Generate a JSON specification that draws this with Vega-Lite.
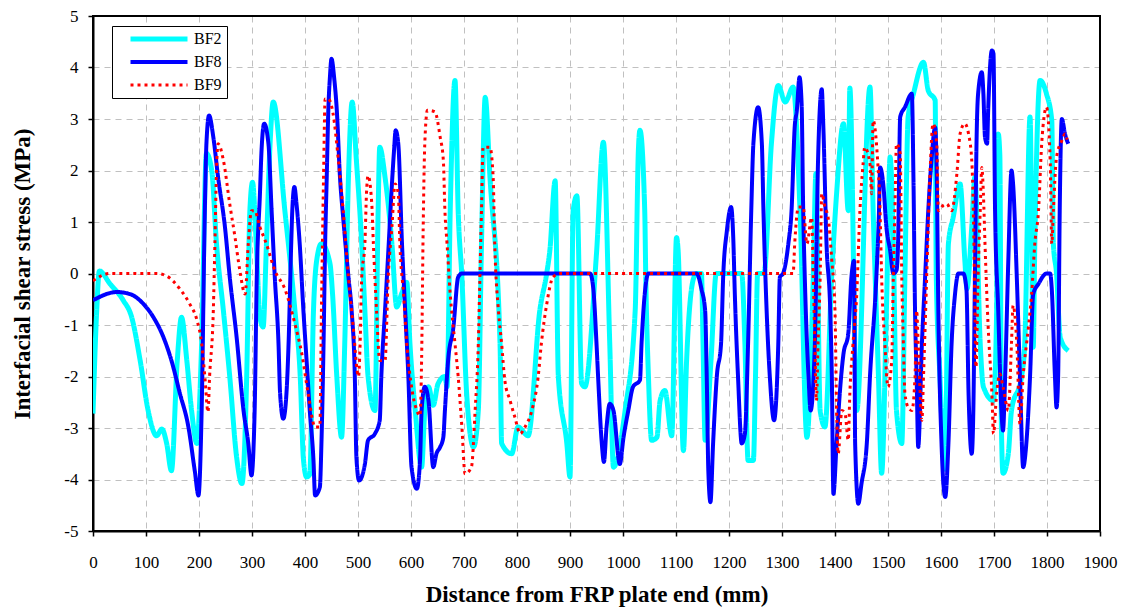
{
"$schema": "https://vega.github.io/schema/vega-lite/v6.json",
"width": 1007,
"height": 515,
"autosize": {"type": "none"},
"padding": {"left": 93, "top": 16, "right": 29, "bottom": 79},
"background": "white",
"config": {
  "view": {"stroke": "#000000", "strokeWidth": 2},
  "axis": {
    "labelFont": "Liberation Serif, Times New Roman, Times, serif", "labelFontSize": 17, "labelColor": "#000000",
    "titleFont": "Liberation Serif, Times New Roman, Times, serif", "titleFontSize": 23, "titleFontWeight": "bold", "titleColor": "#000000",
    "domainColor": "#000000", "domainWidth": 2, "tickColor": "#000000", "tickSize": 5, "tickWidth": 1.5,
    "grid": true, "gridColor": "#c0c0c0", "gridDash": [6, 5], "gridWidth": 1
  },
  "legend": {"labelFont": "Liberation Serif, Times New Roman, Times, serif", "labelFontSize": 16, "labelColor": "#000000"}
},
"datasets": {"frame": [{"k": 1}]},
"data": {"values": [
{"s":"BF2","x":0,"y":-2.72},{"s":"BF2","x":7,"y":-0.72},{"s":"BF2","x":12,"y":0.05},{"s":"BF2","x":32,"y":-0.2},{"s":"BF2","x":57,"y":-0.52},{"s":"BF2","x":73,"y":-0.85},{"s":"BF2","x":89,"y":-1.69},{"s":"BF2","x":104,"y":-2.66},{"s":"BF2","x":120,"y":-3.15},{"s":"BF2","x":130,"y":-3.02},{"s":"BF2","x":139,"y":-3.3},{"s":"BF2","x":148,"y":-3.83},{"s":"BF2","x":159,"y":-1.69},{"s":"BF2","x":167,"y":-0.85},{"s":"BF2","x":177,"y":-1.69},{"s":"BF2","x":186,"y":-2.66},{"s":"BF2","x":196,"y":-3.3},{"s":"BF2","x":205,"y":-1.36},{"s":"BF2","x":214,"y":2.33},{"s":"BF2","x":224,"y":2.0},{"s":"BF2","x":233,"y":0.58},{"s":"BF2","x":246,"y":-0.72},{"s":"BF2","x":258,"y":-2.0},{"s":"BF2","x":271,"y":-3.57},{"s":"BF2","x":281,"y":-4.08},{"s":"BF2","x":290,"y":-2.0},{"s":"BF2","x":296,"y":1.22},{"s":"BF2","x":301,"y":1.77},{"s":"BF2","x":308,"y":0.58},{"s":"BF2","x":315,"y":-0.85},{"s":"BF2","x":321,"y":-1.04},{"s":"BF2","x":327,"y":0.5},{"s":"BF2","x":334,"y":2.5},{"s":"BF2","x":340,"y":3.33},{"s":"BF2","x":362,"y":1.22},{"s":"BF2","x":381,"y":-0.72},{"s":"BF2","x":391,"y":-2.0},{"s":"BF2","x":397,"y":-3.6},{"s":"BF2","x":403,"y":-3.95},{"s":"BF2","x":409,"y":-3.9},{"s":"BF2","x":416,"y":-0.72},{"s":"BF2","x":422,"y":0.25},{"s":"BF2","x":431,"y":0.58},{"s":"BF2","x":447,"y":0.2},{"s":"BF2","x":452,"y":-0.4},{"s":"BF2","x":460,"y":-2.0},{"s":"BF2","x":469,"y":-3.18},{"s":"BF2","x":475,"y":-1.36},{"s":"BF2","x":482,"y":1.87},{"s":"BF2","x":489,"y":3.33},{"s":"BF2","x":497,"y":2.19},{"s":"BF2","x":507,"y":0.58},{"s":"BF2","x":513,"y":-0.72},{"s":"BF2","x":519,"y":-2.0},{"s":"BF2","x":532,"y":-2.66},{"s":"BF2","x":538,"y":1.22},{"s":"BF2","x":541,"y":2.45},{"s":"BF2","x":551,"y":1.87},{"s":"BF2","x":564,"y":0.58},{"s":"BF2","x":573,"y":-0.65},{"s":"BF2","x":582,"y":-0.4},{"s":"BF2","x":592,"y":-0.17},{"s":"BF2","x":598,"y":-1.36},{"s":"BF2","x":608,"y":-2.66},{"s":"BF2","x":620,"y":-3.76},{"s":"BF2","x":626,"y":-2.66},{"s":"BF2","x":633,"y":-2.2},{"s":"BF2","x":642,"y":-2.56},{"s":"BF2","x":651,"y":-2.14},{"s":"BF2","x":664,"y":-2.0},{"s":"BF2","x":668,"y":-2.2},{"s":"BF2","x":674,"y":1.22},{"s":"BF2","x":683,"y":3.75},{"s":"BF2","x":689,"y":1.22},{"s":"BF2","x":696,"y":-0.07},{"s":"BF2","x":705,"y":-2.33},{"s":"BF2","x":718,"y":-3.37},{"s":"BF2","x":727,"y":-2.66},{"s":"BF2","x":733,"y":0.58},{"s":"BF2","x":740,"y":3.42},{"s":"BF2","x":749,"y":1.87},{"s":"BF2","x":768,"y":-1.36},{"s":"BF2","x":771,"y":-3.3},{"s":"BF2","x":790,"y":-3.5},{"s":"BF2","x":802,"y":-2.98},{"s":"BF2","x":821,"y":-3.15},{"s":"BF2","x":843,"y":-0.72},{"s":"BF2","x":856,"y":0},{"s":"BF2","x":862,"y":0.45},{"s":"BF2","x":872,"y":1.8},{"s":"BF2","x":878,"y":-2.0},{"s":"BF2","x":894,"y":-3.3},{"s":"BF2","x":900,"y":-3.95},{"s":"BF2","x":906,"y":1.22},{"s":"BF2","x":913,"y":1.51},{"s":"BF2","x":922,"y":-2.14},{"s":"BF2","x":928,"y":-2.2},{"s":"BF2","x":950,"y":0.39},{"s":"BF2","x":963,"y":2.55},{"s":"BF2","x":975,"y":-1.36},{"s":"BF2","x":982,"y":-3.76},{"s":"BF2","x":1004,"y":-2.66},{"s":"BF2","x":1023,"y":-0.72},{"s":"BF2","x":1029,"y":2.39},{"s":"BF2","x":1032,"y":2.78},{"s":"BF2","x":1041,"y":1.22},{"s":"BF2","x":1043,"y":-0.1},{"s":"BF2","x":1048,"y":-2.0},{"s":"BF2","x":1054,"y":-3.24},{"s":"BF2","x":1064,"y":-3.18},{"s":"BF2","x":1070,"y":-2.47},{"s":"BF2","x":1079,"y":-2.27},{"s":"BF2","x":1092,"y":-3.15},{"s":"BF2","x":1101,"y":0.7},{"s":"BF2","x":1104,"y":0.45},{"s":"BF2","x":1114,"y":-3.44},{"s":"BF2","x":1120,"y":-1.69},{"s":"BF2","x":1133,"y":-0.1},{"s":"BF2","x":1139,"y":0},{"s":"BF2","x":1148,"y":0},{"s":"BF2","x":1151,"y":-1.36},{"s":"BF2","x":1155,"y":-3.24},{"s":"BF2","x":1166,"y":-1.69},{"s":"BF2","x":1176,"y":0},{"s":"BF2","x":1224,"y":0},{"s":"BF2","x":1230,"y":-1.36},{"s":"BF2","x":1236,"y":-3.63},{"s":"BF2","x":1246,"y":-3.63},{"s":"BF2","x":1250,"y":-2.0},{"s":"BF2","x":1254,"y":0},{"s":"BF2","x":1266,"y":0},{"s":"BF2","x":1280,"y":2.52},{"s":"BF2","x":1293,"y":3.65},{"s":"BF2","x":1306,"y":3.33},{"s":"BF2","x":1321,"y":3.62},{"s":"BF2","x":1334,"y":1.22},{"s":"BF2","x":1347,"y":-3.18},{"s":"BF2","x":1359,"y":-0.07},{"s":"BF2","x":1364,"y":1.94},{"s":"BF2","x":1372,"y":-2.66},{"s":"BF2","x":1381,"y":-2.98},{"s":"BF2","x":1394,"y":0},{"s":"BF2","x":1403,"y":1.55},{"s":"BF2","x":1416,"y":2.91},{"s":"BF2","x":1425,"y":1.22},{"s":"BF2","x":1428,"y":3.6},{"s":"BF2","x":1441,"y":-2.66},{"s":"BF2","x":1466,"y":3.62},{"s":"BF2","x":1472,"y":1.22},{"s":"BF2","x":1482,"y":-2.0},{"s":"BF2","x":1488,"y":-3.88},{"s":"BF2","x":1497,"y":-0.72},{"s":"BF2","x":1504,"y":2.26},{"s":"BF2","x":1510,"y":0.58},{"s":"BF2","x":1516,"y":-2.66},{"s":"BF2","x":1526,"y":-3.3},{"s":"BF2","x":1532,"y":0},{"s":"BF2","x":1538,"y":3.04},{"s":"BF2","x":1548,"y":3.49},{"s":"BF2","x":1567,"y":4.1},{"s":"BF2","x":1576,"y":3.55},{"s":"BF2","x":1589,"y":3.36},{"s":"BF2","x":1591,"y":0},{"s":"BF2","x":1598,"y":-2.0},{"s":"BF2","x":1608,"y":-3.8},{"s":"BF2","x":1614,"y":0.58},{"s":"BF2","x":1623,"y":1.09},{"s":"BF2","x":1636,"y":1.74},{"s":"BF2","x":1645,"y":0.25},{"s":"BF2","x":1649,"y":-0.3},{"s":"BF2","x":1658,"y":0.9},{"s":"BF2","x":1664,"y":1.87},{"s":"BF2","x":1674,"y":-1.36},{"s":"BF2","x":1680,"y":-2.2},{"s":"BF2","x":1699,"y":-2.47},{"s":"BF2","x":1705,"y":-0.72},{"s":"BF2","x":1708,"y":2.71},{"s":"BF2","x":1711,"y":2.3},{"s":"BF2","x":1714,"y":-2.98},{"s":"BF2","x":1717,"y":-3.88},{"s":"BF2","x":1727,"y":-3.5},{"s":"BF2","x":1733,"y":-2.66},{"s":"BF2","x":1752,"y":-2.0},{"s":"BF2","x":1758,"y":-1.36},{"s":"BF2","x":1768,"y":3.04},{"s":"BF2","x":1774,"y":-1.43},{"s":"BF2","x":1777,"y":0.58},{"s":"BF2","x":1787,"y":3.75},{"s":"BF2","x":1799,"y":3.49},{"s":"BF2","x":1809,"y":2.97},{"s":"BF2","x":1812,"y":0.58},{"s":"BF2","x":1818,"y":0},{"s":"BF2","x":1825,"y":-1.24},{"s":"BF2","x":1840,"y":-1.5},
{"s":"BF8","x":0,"y":-0.52},{"s":"BF8","x":45,"y":-0.36},{"s":"BF8","x":70,"y":-0.4},{"s":"BF8","x":95,"y":-0.59},{"s":"BF8","x":114,"y":-0.85},{"s":"BF8","x":133,"y":-1.24},{"s":"BF8","x":148,"y":-1.69},{"s":"BF8","x":164,"y":-2.33},{"s":"BF8","x":180,"y":-2.98},{"s":"BF8","x":192,"y":-3.83},{"s":"BF8","x":199,"y":-4.31},{"s":"BF8","x":205,"y":-2.66},{"s":"BF8","x":211,"y":1.22},{"s":"BF8","x":214,"y":2.52},{"s":"BF8","x":219,"y":3.07},{"s":"BF8","x":227,"y":2.65},{"s":"BF8","x":236,"y":1.87},{"s":"BF8","x":249,"y":0.9},{"s":"BF8","x":258,"y":-0.07},{"s":"BF8","x":271,"y":-1.24},{"s":"BF8","x":284,"y":-2.66},{"s":"BF8","x":293,"y":-3.3},{"s":"BF8","x":299,"y":-3.92},{"s":"BF8","x":305,"y":-2.66},{"s":"BF8","x":309,"y":-0.07},{"s":"BF8","x":315,"y":1.55},{"s":"BF8","x":318,"y":2.39},{"s":"BF8","x":323,"y":2.91},{"s":"BF8","x":331,"y":2.52},{"s":"BF8","x":337,"y":1.22},{"s":"BF8","x":343,"y":-0.07},{"s":"BF8","x":350,"y":-1.36},{"s":"BF8","x":353,"y":-2.33},{"s":"BF8","x":359,"y":-2.82},{"s":"BF8","x":365,"y":-2.33},{"s":"BF8","x":369,"y":-1.36},{"s":"BF8","x":374,"y":0.58},{"s":"BF8","x":376,"y":1.22},{"s":"BF8","x":380,"y":1.68},{"s":"BF8","x":384,"y":1.35},{"s":"BF8","x":390,"y":0.58},{"s":"BF8","x":397,"y":-0.72},{"s":"BF8","x":403,"y":-1.69},{"s":"BF8","x":409,"y":-2.66},{"s":"BF8","x":416,"y":-3.63},{"s":"BF8","x":419,"y":-4.31},{"s":"BF8","x":428,"y":-4.15},{"s":"BF8","x":431,"y":-3.3},{"s":"BF8","x":435,"y":-1.36},{"s":"BF8","x":438,"y":0.58},{"s":"BF8","x":441,"y":1.87},{"s":"BF8","x":444,"y":3.17},{"s":"BF8","x":447,"y":3.81},{"s":"BF8","x":450,"y":4.17},{"s":"BF8","x":455,"y":3.8},{"s":"BF8","x":460,"y":3.17},{"s":"BF8","x":466,"y":1.87},{"s":"BF8","x":472,"y":1.09},{"s":"BF8","x":482,"y":-0.07},{"s":"BF8","x":488,"y":-0.72},{"s":"BF8","x":494,"y":-2.0},{"s":"BF8","x":497,"y":-3.57},{"s":"BF8","x":502,"y":-4.02},{"s":"BF8","x":513,"y":-3.7},{"s":"BF8","x":519,"y":-3.24},{"s":"BF8","x":532,"y":-3.11},{"s":"BF8","x":541,"y":-2.85},{"s":"BF8","x":544,"y":-2.0},{"s":"BF8","x":551,"y":-0.72},{"s":"BF8","x":558,"y":0.58},{"s":"BF8","x":563,"y":1.55},{"s":"BF8","x":568,"y":2.39},{"s":"BF8","x":571,"y":2.78},{"s":"BF8","x":576,"y":2.52},{"s":"BF8","x":583,"y":0.58},{"s":"BF8","x":589,"y":-0.72},{"s":"BF8","x":595,"y":-2.0},{"s":"BF8","x":601,"y":-3.76},{"s":"BF8","x":611,"y":-4.18},{"s":"BF8","x":617,"y":-3.63},{"s":"BF8","x":620,"y":-2.66},{"s":"BF8","x":626,"y":-2.2},{"s":"BF8","x":633,"y":-2.47},{"s":"BF8","x":642,"y":-3.76},{"s":"BF8","x":648,"y":-3.5},{"s":"BF8","x":655,"y":-3.37},{"s":"BF8","x":661,"y":-3.18},{"s":"BF8","x":664,"y":-2.66},{"s":"BF8","x":670,"y":-1.69},{"s":"BF8","x":680,"y":-1.04},{"s":"BF8","x":689,"y":-0.07},{"s":"BF8","x":696,"y":0},{"s":"BF8","x":938,"y":0},{"s":"BF8","x":944,"y":-0.3},{"s":"BF8","x":950,"y":-1.36},{"s":"BF8","x":953,"y":-2.0},{"s":"BF8","x":960,"y":-3.3},{"s":"BF8","x":964,"y":-3.66},{"s":"BF8","x":969,"y":-2.98},{"s":"BF8","x":975,"y":-2.53},{"s":"BF8","x":982,"y":-2.66},{"s":"BF8","x":994,"y":-3.7},{"s":"BF8","x":1001,"y":-3.18},{"s":"BF8","x":1010,"y":-2.66},{"s":"BF8","x":1019,"y":-2.2},{"s":"BF8","x":1032,"y":-2.07},{"s":"BF8","x":1035,"y":-1.36},{"s":"BF8","x":1041,"y":-0.4},{"s":"BF8","x":1048,"y":0},{"s":"BF8","x":1139,"y":0},{"s":"BF8","x":1148,"y":-0.3},{"s":"BF8","x":1155,"y":-0.72},{"s":"BF8","x":1158,"y":-2.0},{"s":"BF8","x":1161,"y":-3.83},{"s":"BF8","x":1165,"y":-4.44},{"s":"BF8","x":1170,"y":-3.3},{"s":"BF8","x":1177,"y":-2.0},{"s":"BF8","x":1185,"y":-1.36},{"s":"BF8","x":1189,"y":-0.07},{"s":"BF8","x":1196,"y":0.83},{"s":"BF8","x":1204,"y":1.29},{"s":"BF8","x":1208,"y":0.7},{"s":"BF8","x":1211,"y":-0.4},{"s":"BF8","x":1217,"y":-2.0},{"s":"BF8","x":1224,"y":-3.3},{"s":"BF8","x":1230,"y":-3.11},{"s":"BF8","x":1236,"y":-1.36},{"s":"BF8","x":1242,"y":1.22},{"s":"BF8","x":1246,"y":2.52},{"s":"BF8","x":1255,"y":3.23},{"s":"BF8","x":1262,"y":2.52},{"s":"BF8","x":1265,"y":1.22},{"s":"BF8","x":1271,"y":-0.72},{"s":"BF8","x":1277,"y":-2.0},{"s":"BF8","x":1285,"y":-2.85},{"s":"BF8","x":1293,"y":-1.36},{"s":"BF8","x":1296,"y":-0.07},{"s":"BF8","x":1302,"y":0},{"s":"BF8","x":1312,"y":0.58},{"s":"BF8","x":1318,"y":1.22},{"s":"BF8","x":1324,"y":2.85},{"s":"BF8","x":1328,"y":3.17},{"s":"BF8","x":1333,"y":3.81},{"s":"BF8","x":1337,"y":3.3},{"s":"BF8","x":1340,"y":1.22},{"s":"BF8","x":1343,"y":-0.07},{"s":"BF8","x":1350,"y":-2.0},{"s":"BF8","x":1354,"y":-2.66},{"s":"BF8","x":1362,"y":-1.36},{"s":"BF8","x":1368,"y":2.19},{"s":"BF8","x":1375,"y":3.58},{"s":"BF8","x":1378,"y":2.85},{"s":"BF8","x":1384,"y":0.58},{"s":"BF8","x":1391,"y":-0.72},{"s":"BF8","x":1394,"y":-2.0},{"s":"BF8","x":1397,"y":-4.28},{"s":"BF8","x":1403,"y":-3.3},{"s":"BF8","x":1409,"y":-2.33},{"s":"BF8","x":1416,"y":-1.56},{"s":"BF8","x":1425,"y":-1.17},{"s":"BF8","x":1431,"y":-0.07},{"s":"BF8","x":1436,"y":0.25},{"s":"BF8","x":1438,"y":-3.3},{"s":"BF8","x":1444,"y":-4.47},{"s":"BF8","x":1450,"y":-4.08},{"s":"BF8","x":1460,"y":-3.3},{"s":"BF8","x":1466,"y":-2.0},{"s":"BF8","x":1478,"y":-0.07},{"s":"BF8","x":1483,"y":1.22},{"s":"BF8","x":1485,"y":2.06},{"s":"BF8","x":1491,"y":1.74},{"s":"BF8","x":1497,"y":0.9},{"s":"BF8","x":1504,"y":0.45},{"s":"BF8","x":1510,"y":0},{"s":"BF8","x":1516,"y":0.06},{"s":"BF8","x":1519,"y":0.58},{"s":"BF8","x":1523,"y":3.04},{"s":"BF8","x":1532,"y":3.23},{"s":"BF8","x":1545,"y":3.49},{"s":"BF8","x":1548,"y":1.87},{"s":"BF8","x":1551,"y":-0.72},{"s":"BF8","x":1554,"y":-2.0},{"s":"BF8","x":1557,"y":-3.37},{"s":"BF8","x":1564,"y":-1.36},{"s":"BF8","x":1570,"y":-0.07},{"s":"BF8","x":1576,"y":1.22},{"s":"BF8","x":1582,"y":2.19},{"s":"BF8","x":1589,"y":2.84},{"s":"BF8","x":1592,"y":1.87},{"s":"BF8","x":1595,"y":-0.72},{"s":"BF8","x":1601,"y":-3.3},{"s":"BF8","x":1608,"y":-4.34},{"s":"BF8","x":1614,"y":-3.3},{"s":"BF8","x":1620,"y":-1.36},{"s":"BF8","x":1626,"y":-0.45},{"s":"BF8","x":1633,"y":0},{"s":"BF8","x":1642,"y":0},{"s":"BF8","x":1648,"y":-0.3},{"s":"BF8","x":1652,"y":-2.33},{"s":"BF8","x":1658,"y":-3.5},{"s":"BF8","x":1661,"y":-2.66},{"s":"BF8","x":1664,"y":-0.07},{"s":"BF8","x":1667,"y":2.52},{"s":"BF8","x":1670,"y":3.49},{"s":"BF8","x":1677,"y":3.91},{"s":"BF8","x":1680,"y":3.49},{"s":"BF8","x":1683,"y":2.65},{"s":"BF8","x":1687,"y":2.52},{"s":"BF8","x":1689,"y":3.17},{"s":"BF8","x":1696,"y":4.33},{"s":"BF8","x":1699,"y":4.27},{"s":"BF8","x":1702,"y":1.22},{"s":"BF8","x":1708,"y":-0.72},{"s":"BF8","x":1714,"y":-2.66},{"s":"BF8","x":1717,"y":-3.05},{"s":"BF8","x":1721,"y":-2.0},{"s":"BF8","x":1727,"y":0.25},{"s":"BF8","x":1733,"y":2.0},{"s":"BF8","x":1736,"y":1.74},{"s":"BF8","x":1743,"y":-0.07},{"s":"BF8","x":1749,"y":-2.0},{"s":"BF8","x":1755,"y":-3.76},{"s":"BF8","x":1761,"y":-3.3},{"s":"BF8","x":1768,"y":-2.0},{"s":"BF8","x":1774,"y":-0.4},{"s":"BF8","x":1784,"y":-0.2},{"s":"BF8","x":1799,"y":0},{"s":"BF8","x":1806,"y":0},{"s":"BF8","x":1809,"y":-0.3},{"s":"BF8","x":1815,"y":-2.0},{"s":"BF8","x":1818,"y":-2.6},{"s":"BF8","x":1821,"y":-2.0},{"s":"BF8","x":1824,"y":1.22},{"s":"BF8","x":1828,"y":3.0},{"s":"BF8","x":1834,"y":2.71},{"s":"BF8","x":1840,"y":2.52},
{"s":"BF9","x":0,"y":-0.14},{"s":"BF9","x":32,"y":0},{"s":"BF9","x":120,"y":0},{"s":"BF9","x":139,"y":-0.05},{"s":"BF9","x":164,"y":-0.3},{"s":"BF9","x":183,"y":-0.6},{"s":"BF9","x":196,"y":-0.9},{"s":"BF9","x":205,"y":-1.36},{"s":"BF9","x":211,"y":-2.0},{"s":"BF9","x":217,"y":-2.69},{"s":"BF9","x":220,"y":-2.0},{"s":"BF9","x":227,"y":-0.72},{"s":"BF9","x":230,"y":0.58},{"s":"BF9","x":233,"y":2.0},{"s":"BF9","x":236,"y":2.52},{"s":"BF9","x":246,"y":2.2},{"s":"BF9","x":258,"y":1.35},{"s":"BF9","x":268,"y":0.7},{"s":"BF9","x":277,"y":0.06},{"s":"BF9","x":287,"y":-0.4},{"s":"BF9","x":293,"y":0.58},{"s":"BF9","x":299,"y":1.22},{"s":"BF9","x":305,"y":1.22},{"s":"BF9","x":315,"y":0.9},{"s":"BF9","x":327,"y":0.58},{"s":"BF9","x":343,"y":0.06},{"s":"BF9","x":362,"y":-0.3},{"s":"BF9","x":381,"y":-0.98},{"s":"BF9","x":394,"y":-1.56},{"s":"BF9","x":406,"y":-2.33},{"s":"BF9","x":419,"y":-2.98},{"s":"BF9","x":428,"y":-2.98},{"s":"BF9","x":431,"y":-0.72},{"s":"BF9","x":435,"y":1.87},{"s":"BF9","x":438,"y":3.39},{"s":"BF9","x":444,"y":3.39},{"s":"BF9","x":453,"y":3.1},{"s":"BF9","x":463,"y":2.2},{"s":"BF9","x":472,"y":1.22},{"s":"BF9","x":482,"y":-0.07},{"s":"BF9","x":491,"y":-1.04},{"s":"BF9","x":501,"y":-2.0},{"s":"BF9","x":504,"y":-1.36},{"s":"BF9","x":507,"y":-0.07},{"s":"BF9","x":513,"y":0.58},{"s":"BF9","x":516,"y":1.55},{"s":"BF9","x":519,"y":1.9},{"s":"BF9","x":526,"y":1.35},{"s":"BF9","x":529,"y":0.58},{"s":"BF9","x":535,"y":-0.72},{"s":"BF9","x":541,"y":-1.69},{"s":"BF9","x":551,"y":-1.69},{"s":"BF9","x":557,"y":-0.07},{"s":"BF9","x":564,"y":0.9},{"s":"BF9","x":570,"y":1.74},{"s":"BF9","x":576,"y":1.55},{"s":"BF9","x":579,"y":0.58},{"s":"BF9","x":586,"y":-0.4},{"s":"BF9","x":592,"y":-1.36},{"s":"BF9","x":601,"y":-2.2},{"s":"BF9","x":611,"y":-2.66},{"s":"BF9","x":617,"y":-2.76},{"s":"BF9","x":620,"y":-1.69},{"s":"BF9","x":623,"y":0.9},{"s":"BF9","x":626,"y":2.52},{"s":"BF9","x":631,"y":3.17},{"s":"BF9","x":645,"y":3.14},{"s":"BF9","x":655,"y":2.65},{"s":"BF9","x":661,"y":2.2},{"s":"BF9","x":664,"y":1.22},{"s":"BF9","x":668,"y":0.58},{"s":"BF9","x":674,"y":-0.4},{"s":"BF9","x":683,"y":-1.36},{"s":"BF9","x":689,"y":-2.0},{"s":"BF9","x":696,"y":-2.98},{"s":"BF9","x":702,"y":-3.89},{"s":"BF9","x":714,"y":-3.76},{"s":"BF9","x":721,"y":-2.66},{"s":"BF9","x":727,"y":-1.36},{"s":"BF9","x":730,"y":-0.07},{"s":"BF9","x":733,"y":1.22},{"s":"BF9","x":736,"y":2.45},{"s":"BF9","x":749,"y":2.45},{"s":"BF9","x":755,"y":1.87},{"s":"BF9","x":758,"y":0.58},{"s":"BF9","x":765,"y":-0.72},{"s":"BF9","x":771,"y":-1.36},{"s":"BF9","x":777,"y":-2.07},{"s":"BF9","x":787,"y":-2.47},{"s":"BF9","x":796,"y":-2.79},{"s":"BF9","x":806,"y":-3.11},{"s":"BF9","x":815,"y":-2.98},{"s":"BF9","x":828,"y":-2.66},{"s":"BF9","x":840,"y":-2.0},{"s":"BF9","x":846,"y":-1.36},{"s":"BF9","x":856,"y":-0.6},{"s":"BF9","x":868,"y":-0.07},{"s":"BF9","x":881,"y":0},{"s":"BF9","x":1321,"y":0},{"s":"BF9","x":1324,"y":0.58},{"s":"BF9","x":1331,"y":1.29},{"s":"BF9","x":1340,"y":1.29},{"s":"BF9","x":1347,"y":0.58},{"s":"BF9","x":1356,"y":1.09},{"s":"BF9","x":1359,"y":-0.07},{"s":"BF9","x":1362,"y":-1.36},{"s":"BF9","x":1365,"y":-2.47},{"s":"BF9","x":1368,"y":-1.36},{"s":"BF9","x":1372,"y":-0.07},{"s":"BF9","x":1375,"y":1.55},{"s":"BF9","x":1381,"y":1.29},{"s":"BF9","x":1387,"y":1.09},{"s":"BF9","x":1394,"y":0.25},{"s":"BF9","x":1400,"y":-0.72},{"s":"BF9","x":1403,"y":-2.66},{"s":"BF9","x":1406,"y":-3.5},{"s":"BF9","x":1413,"y":-2.66},{"s":"BF9","x":1419,"y":-2.72},{"s":"BF9","x":1425,"y":-3.24},{"s":"BF9","x":1428,"y":-2.33},{"s":"BF9","x":1434,"y":-1.36},{"s":"BF9","x":1441,"y":-0.4},{"s":"BF9","x":1447,"y":1.22},{"s":"BF9","x":1453,"y":2.13},{"s":"BF9","x":1456,"y":2.45},{"s":"BF9","x":1466,"y":2.13},{"s":"BF9","x":1469,"y":1.55},{"s":"BF9","x":1472,"y":2.97},{"s":"BF9","x":1480,"y":2.26},{"s":"BF9","x":1485,"y":1.22},{"s":"BF9","x":1488,"y":-0.07},{"s":"BF9","x":1494,"y":-1.36},{"s":"BF9","x":1500,"y":-2.2},{"s":"BF9","x":1507,"y":-1.69},{"s":"BF9","x":1510,"y":-0.07},{"s":"BF9","x":1513,"y":1.22},{"s":"BF9","x":1516,"y":2.52},{"s":"BF9","x":1523,"y":2.33},{"s":"BF9","x":1526,"y":-0.07},{"s":"BF9","x":1529,"y":-1.36},{"s":"BF9","x":1532,"y":-2.33},{"s":"BF9","x":1538,"y":-2.6},{"s":"BF9","x":1545,"y":-2.66},{"s":"BF9","x":1551,"y":-2.0},{"s":"BF9","x":1554,"y":-0.72},{"s":"BF9","x":1557,"y":-1.36},{"s":"BF9","x":1564,"y":-2.85},{"s":"BF9","x":1567,"y":-2.0},{"s":"BF9","x":1573,"y":-0.07},{"s":"BF9","x":1579,"y":1.87},{"s":"BF9","x":1585,"y":2.91},{"s":"BF9","x":1592,"y":2.52},{"s":"BF9","x":1595,"y":1.22},{"s":"BF9","x":1604,"y":1.32},{"s":"BF9","x":1611,"y":1.35},{"s":"BF9","x":1620,"y":1.22},{"s":"BF9","x":1630,"y":1.94},{"s":"BF9","x":1636,"y":2.71},{"s":"BF9","x":1645,"y":2.91},{"s":"BF9","x":1652,"y":2.71},{"s":"BF9","x":1658,"y":2.2},{"s":"BF9","x":1661,"y":1.22},{"s":"BF9","x":1664,"y":-0.72},{"s":"BF9","x":1666,"y":-1.82},{"s":"BF9","x":1670,"y":-0.07},{"s":"BF9","x":1674,"y":1.22},{"s":"BF9","x":1677,"y":2.06},{"s":"BF9","x":1680,"y":1.55},{"s":"BF9","x":1683,"y":0.58},{"s":"BF9","x":1689,"y":-1.04},{"s":"BF9","x":1696,"y":-2.33},{"s":"BF9","x":1699,"y":-3.11},{"s":"BF9","x":1705,"y":-2.33},{"s":"BF9","x":1711,"y":-1.95},{"s":"BF9","x":1717,"y":-2.2},{"s":"BF9","x":1727,"y":-2.66},{"s":"BF9","x":1733,"y":-1.36},{"s":"BF9","x":1736,"y":-0.62},{"s":"BF9","x":1743,"y":-1.36},{"s":"BF9","x":1749,"y":-2.92},{"s":"BF9","x":1755,"y":-2.0},{"s":"BF9","x":1765,"y":-1.04},{"s":"BF9","x":1771,"y":-0.4},{"s":"BF9","x":1777,"y":0.58},{"s":"BF9","x":1784,"y":1.22},{"s":"BF9","x":1790,"y":2.52},{"s":"BF9","x":1799,"y":3.23},{"s":"BF9","x":1806,"y":2.2},{"s":"BF9","x":1809,"y":0.58},{"s":"BF9","x":1812,"y":1.22},{"s":"BF9","x":1818,"y":2.26},{"s":"BF9","x":1828,"y":2.58},{"s":"BF9","x":1834,"y":2.71},{"s":"BF9","x":1838,"y":2.6}
]},
"layer": [
{
"mark": {"type": "line", "interpolate": "monotone", "strokeJoin": "round", "clip": true},
"encoding": {
  "x": {"field": "x", "type": "quantitative",
    "scale": {"domain": [0, 1900], "nice": false, "zero": false},
    "axis": {"values": [0,100,200,300,400,500,600,700,800,900,1000,1100,1200,1300,1400,1500,1600,1700,1800,1900],
      "title": "Distance from FRP plate end (mm)", "labelExpr": "'' + datum.value", "labelBaseline": "alphabetic", "labelPadding": 31,
      "labelFlush": false, "titleY": 70, "titleBaseline": "alphabetic",
      "labelFont": "Liberation Serif, Times New Roman, Times, serif", "labelFontSize": 17}},
  "y": {"field": "y", "type": "quantitative",
    "scale": {"domain": [-5, 5], "nice": false, "zero": false},
    "axis": {"values": [-5,-4,-3,-2,-1,0,1,2,3,4,5], "labelExpr": "'' + datum.value",
      "title": "Interfacial shear stress (MPa)", "labelPadding": 10, "labelFlush": false,
      "titleX": -64, "titleAngle": 270, "titleBaseline": "alphabetic", "titleAlign": "center",
      "labelFont": "Liberation Serif, Times New Roman, Times, serif", "labelFontSize": 17}},
  "color": {"field": "s", "type": "nominal",
    "scale": {"domain": ["BF2","BF8","BF9"], "range": ["#00FFFF","#0000FF","#FF0000"]},
    "legend": {"title": null, "orient": "none", "legendX": 19, "legendY": 10,
      "fillColor": "#ffffff", "strokeColor": "#000000", "padding": 5, "symbolOffset": 11,
      "symbolType": "stroke", "symbolSize": 3249, "clipHeight": 16, "rowPadding": 7,
      "labelFont": "Liberation Serif, Times New Roman, Times, serif", "labelFontSize": 16, "labelColor": "#000000", "labelOffset": 4}},
  "strokeDash": {"field": "s", "type": "nominal",
    "scale": {"domain": ["BF2","BF8","BF9"], "range": [[1,0],[1,0],[3,4]]}},
  "strokeWidth": {"field": "s", "type": "nominal",
    "scale": {"domain": ["BF2","BF8","BF9"], "range": [5,3,2.5]}}
}
},
{
"data": {"name": "frame"},
"mark": {"type": "rule", "color": "#000000", "strokeWidth": 2},
"encoding": {"x": {"datum": 1900}}
},
{
"data": {"name": "frame"},
"mark": {"type": "rule", "color": "#000000", "strokeWidth": 2},
"encoding": {"y": {"datum": 5}}
}
]
}
